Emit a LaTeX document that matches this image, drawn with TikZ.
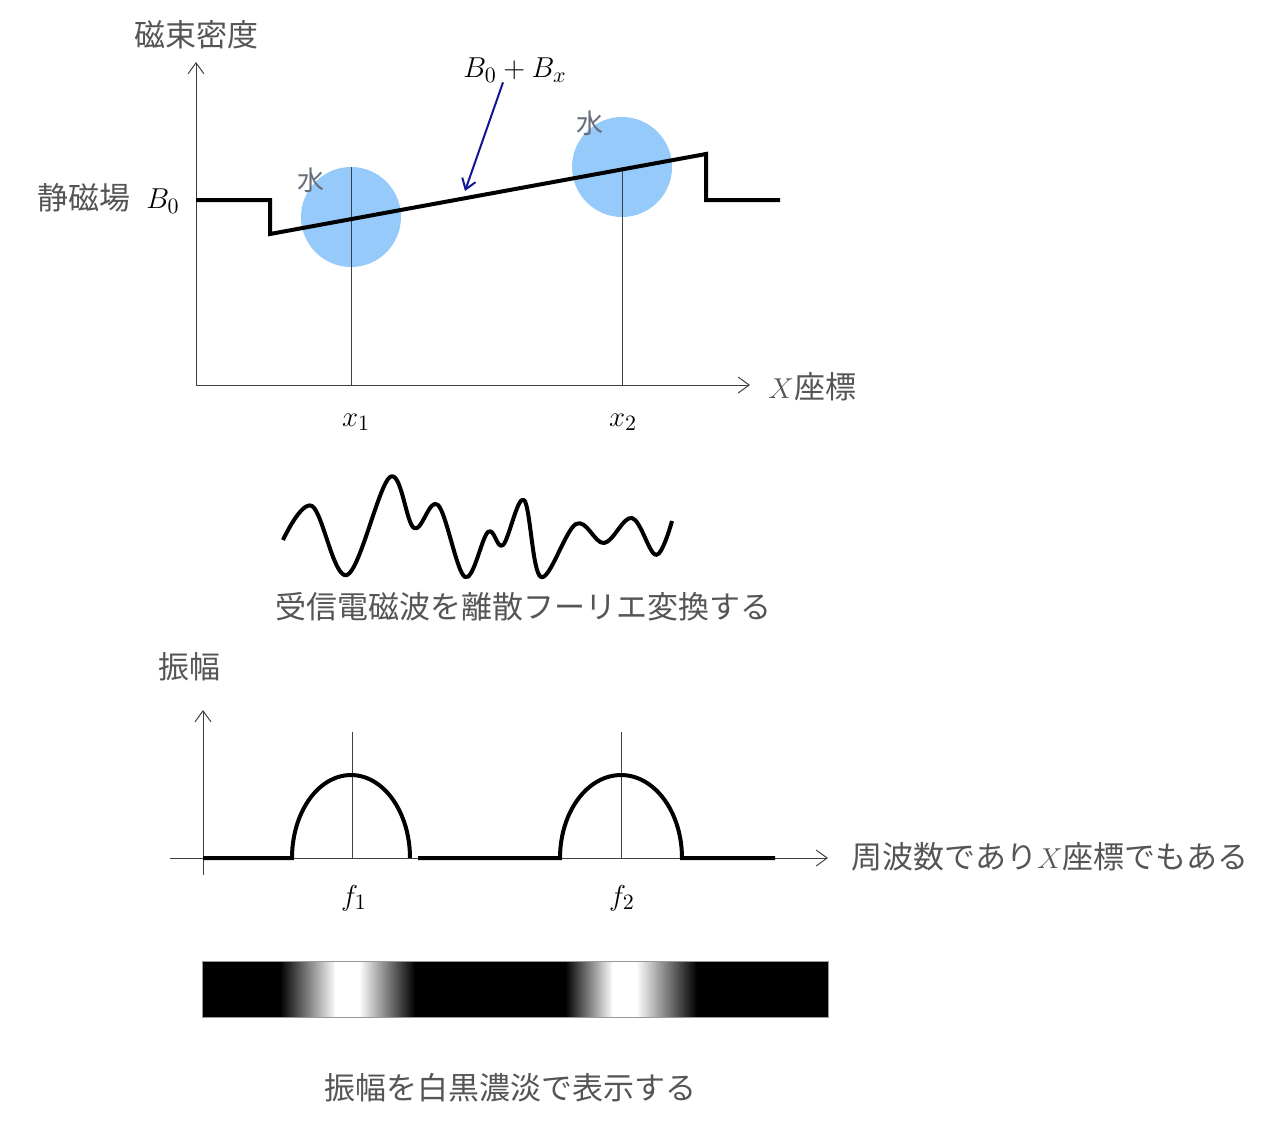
\documentclass[tikz,border=0pt]{standalone}
\usepackage{amsmath}
\usepackage{fontspec}
\newfontfamily\jpfont{Noto Sans CJK JP}
\usetikzlibrary{arrows, arrows.meta}
\usetikzlibrary{calc}
\definecolor{water}{RGB}{150,202,250}
\definecolor{jpgray}{RGB}{85,85,85}
\definecolor{watergray}{RGB}{105,110,125}
\definecolor{pointerblue}{RGB}{20,20,150}
\tikzset{
  jptext/.style={text=jpgray, font=\jpfont\fontsize{15.5}{18}\selectfont, inner sep=0pt},
  watertext/.style={text=watergray, font=\jpfont\fontsize{13.5}{16}\selectfont, inner sep=0pt},
  mathlbl/.style={font=\fontsize{15}{18}\selectfont, inner sep=0pt},
  axis/.style={black!75, line width=0.5pt, -{Straight Barb[length=5.5pt, width=8pt]}},
  guide/.style={black!75, line width=0.5pt},
  signal/.style={black, line width=2pt, line join=miter},
  pointer/.style={pointerblue, line width=1pt, -{Straight Barb[length=5pt, width=7pt]}}
}

\begin{document}
\begin{tikzpicture}[x=0.5pt, y=-0.5pt]
  \useasboundingbox (0,0) rectangle (1280,1130);

  % magnetic flux density along X
  \fill[water] (351,217) circle[radius=50];
  \fill[water] (622,167) circle[radius=50];
  \coordinate (o1) at (196,385);
  \coordinate (b0) at (196,200);
  \coordinate (x1) at (351,385);
  \coordinate (x2) at (622,385);
  \draw[axis] (o1) -- (196,62);
  \draw[axis] (o1) -- (750,385);
  \draw[guide] (x1) -- ++(0,-218);
  \draw[guide] (x2) -- ++(0,-218);
  \draw[signal] (b0) -- (270,200) -- (270,234) -- (706,154) -- (706,200) -- (780,200);

  \node[jptext] (flux) at (196,35) {磁束密度};
  \node[jptext] (static) at (84,198) {静磁場};
  \node[mathlbl] (b0lbl) at (163,201) {$B_0$};
  \node[watertext] (water1) at (311,180) {水};
  \node[watertext] (water2) at (590,123) {水};
  \node[mathlbl] (sum) at (515,70) {$B_0+B_x$};
  \coordinate (onramp) at (465,191);
  \draw[pointer] ([xshift=-6pt]sum.south) -- (onramp);
  \node[mathlbl] (lx1) at (356,422) {$x_1$};
  \node[mathlbl] (lx2) at (623,422) {$x_2$};
  \node[jptext, anchor=west] (xcoord) at (768,387) {$X$座標};

  % received signal
  \draw[signal, line join=round] plot[smooth, tension=0.6] coordinates {
    (283,540) (312,506) (347,575) (390,477) (414,528) (438,505) (465,577)
    (488,532) (503,545) (524,500) (541,577) (576,524) (604,543) (632,518)
    (656,555) (672,521)};
  \node[jptext] (dft) at (523,607) {受信電磁波を離散フーリエ変換する};

  % spectrum
  \coordinate (o2) at (203,858);
  \coordinate (f1) at (352,858);
  \coordinate (f2) at (621,858);
  \draw[axis] (203,875) -- (203,710);
  \draw[axis] (170,858) -- (828,858);
  \draw[guide] (f1) -- ++(0,-126);
  \draw[guide] (f2) -- ++(0,-126);
  \draw[signal] (o2) -- (292,858) -- plot[domain=180:360, samples=50] ({351+59*cos(\x)}, {858+83*sin(\x)});
  \draw[signal] (418,858) -- (560,858) -- plot[domain=180:360, samples=50] ({621+61*cos(\x)}, {858+83*sin(\x)}) -- (775,858);

  \node[jptext] (amp) at (189,667) {振幅};
  \node[mathlbl] (lf1) at (354,898) {$f_1$};
  \node[mathlbl] (lf2) at (622,898) {$f_2$};
  \node[jptext] (freq) at (1050,857) {周波数であり$X$座標でもある};

  % amplitude as gray scale
  \fill[black] (202,961) rectangle (828,1017);
  \shade[left color=black, right color=white] (280,961) rectangle (336,1017);
  \fill[white] (335,961) rectangle (360,1017);
  \shade[left color=white, right color=black] (359,961) rectangle (415,1017);
  \shade[left color=black, right color=white] (565,961) rectangle (613,1017);
  \fill[white] (612,961) rectangle (637,1017);
  \shade[left color=white, right color=black] (636,961) rectangle (697,1017);
  \draw[black!40, line width=0.5pt] (202,961) rectangle (828,1017);
  \node[jptext] (shade) at (510,1088) {振幅を白黒濃淡で表示する};
\end{tikzpicture}
\end{document}
